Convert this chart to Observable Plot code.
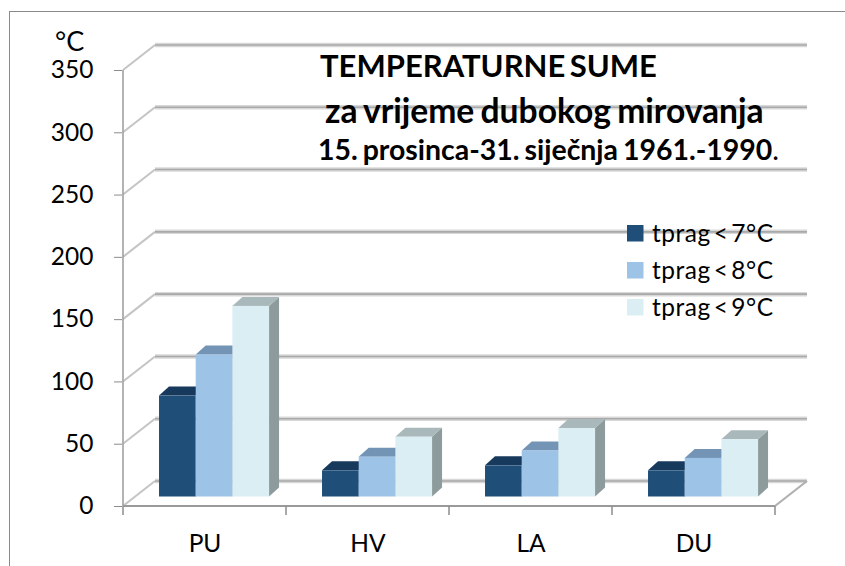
<!DOCTYPE html>
<html>
<head>
<meta charset="utf-8">
<script src="https://cdn.jsdelivr.net/npm/d3@7"></script>
<script src="https://cdn.jsdelivr.net/npm/@observablehq/plot@0.6"></script>
<style>
  html, body { margin: 0; padding: 0; background: #fff; }
  #wrap { position: relative; width: 845px; height: 566px; overflow: hidden; font-family: Lato, "Open Sans", sans-serif; }
  #border { position: absolute; left: 9px; top: 11px; width: 1000px; height: 1000px; border: 1.5px solid #8a8a8a; box-sizing: border-box; }
  #chart { position: absolute; left: 0; top: 0; }
</style>
</head>
<body>
<div id="wrap">
  <div id="border"></div>
  <div id="chart"></div>
</div>
<script>
// ---- data ----
const categories = ["PU", "HV", "LA", "DU"];
const seriesLabels = ["tprag < 7°C", "tprag < 8°C", "tprag < 9°C"];
const below7 = [81, 21, 25, 21];
const below8 = [114, 32, 37, 31];
const below9 = [153, 48, 55, 46];
const yTicks = [0, 50, 100, 150, 200, 250, 300, 350];
const yUnit = "°C";
const titleLines = ["TEMPERATURNE SUME", "za vrijeme dubokog mirovanja", "15. prosinca-31. siječnja 1961.-1990"];

// ---- styles ----
const frontColors = ["#1f4e79", "#9dc3e6", "#dbeef3"];
const topColors = ["#17395c", "#7394b4", "#a9b8ba"];
const sideColors = ["#163654", "#6e8dab", "#8d9b9c"];

const seriesValues = [below7, below8, below9];
const data = categories.flatMap((c, i) => seriesValues.map((s, j) => ({category: c, series: j, value: s[i]})));

// 3D scaffold + columns drawn through Plot's scales
function threeD(index, scales, values, dimensions) {
  const x = scales.x, y = scales.y;
  const bw = x.bandwidth ? x.bandwidth() : (dimensions.width - dimensions.marginLeft - dimensions.marginRight) / categories.length;
  const xL = x(categories[0]);
  const xR = x(categories[categories.length - 1]) + bw;
  const DX = 32, DY = -25;        // back-wall depth offset
  const BY = -9.5;                // columns sit slightly back
  const CDX = 10, CDY = -9;       // column depth
  const g = d3.create("svg:g");
  const y0 = y(0), yTop = y(yTicks[yTicks.length - 1]);

  for (const v of yTicks) {
    g.append("line").attr("x1", xL).attr("y1", y(v)).attr("x2", xL + DX).attr("y2", y(v) + DY)
      .attr("stroke", "#c4c4c4").attr("stroke-width", 2);
  }
  for (const v of yTicks) {
    g.append("line").attr("x1", xL + DX).attr("y1", y(v) + DY).attr("x2", xR + DX).attr("y2", y(v) + DY)
      .attr("stroke", "#d8d8d8").attr("stroke-width", 4.5);
    g.append("line").attr("x1", xL + DX).attr("y1", y(v) + DY).attr("x2", xR + DX).attr("y2", y(v) + DY)
      .attr("stroke", "#a9a9a9").attr("stroke-width", 1.6);
  }
  g.append("line").attr("x1", xL).attr("y1", y0).attr("x2", xR).attr("y2", y0).attr("stroke", "#9a9a9a").attr("stroke-width", 2);
  g.append("line").attr("x1", xR).attr("y1", y0).attr("x2", xR + DX).attr("y2", y0 + DY).attr("stroke", "#b0b0b0").attr("stroke-width", 2.2);
  g.append("line").attr("x1", xL).attr("y1", y0).attr("x2", xL).attr("y2", yTop).attr("stroke", "#a0a0a0").attr("stroke-width", 1.6);
  const bounds = categories.map(c => x(c)).concat([xR]);
  for (const bx of bounds) {
    g.append("line").attr("x1", bx).attr("y1", y0).attr("x2", bx).attr("y2", y0 + 9).attr("stroke", "#8c8c8c").attr("stroke-width", 1.5);
  }
  for (const d of data) {
    const w = bw * 0.225;
    const x0 = x(d.category) + bw * 0.221 + d.series * w;
    const yb = y0 + BY, yt = y(d.value) + BY;
    const j = d.series;
    g.append("path")
      .attr("d", `M${x0 + w},${yt}L${x0 + w + CDX},${yt + CDY}L${x0 + w + CDX},${yb + CDY}L${x0 + w},${yb}Z`)
      .attr("fill", sideColors[j]);
    g.append("path")
      .attr("d", `M${x0},${yt}L${x0 + CDX},${yt + CDY}L${x0 + w + CDX},${yt + CDY}L${x0 + w},${yt}Z`)
      .attr("fill", topColors[j]);
    g.append("rect").attr("x", x0).attr("y", yt).attr("width", w).attr("height", yb - yt).attr("fill", frontColors[j]);
  }
  return g.node();
}

const plot = Plot.plot({
  width: 845,
  height: 566,
  marginLeft: 122,
  marginRight: 70,
  marginTop: 70,
  marginBottom: 60,
  x: {type: "band", domain: categories, padding: 0},
  y: {domain: [0, 350]},
  style: {fontFamily: "Lato, 'Open Sans', sans-serif", fontSize: "24.5px", color: "#000", background: "transparent", overflow: "visible"},
  marks: [
    threeD,
    Plot.axisY(yTicks, {tickSize: 8, tickPadding: 21, stroke: "#8c8c8c", label: null}),
    Plot.axisX({tickSize: 0, tickPadding: 28, label: null})
  ]
});
document.getElementById("chart").appendChild(plot);

// overlay texts
const svg = d3.select(plot);
const ov = svg.append("g").attr("font-family", "Lato, 'Open Sans', sans-serif").attr("fill", "#000").attr("text-anchor", "start");

function fit(sel, target) {
  const len = sel.node().getComputedTextLength();
  const fs = parseFloat(sel.attr("font-size"));
  if (len > 0) sel.attr("font-size", (fs * target / len).toFixed(2));
}

ov.append("text").attr("x", 55).attr("y", 51).attr("font-size", 27).text(yUnit);

const t1 = ov.append("text").attr("x", 320).attr("y", 77).attr("font-size", 30).attr("font-weight", "bold").attr("word-spacing", -3).text(titleLines[0]);
fit(t1, 337);
const t2 = ov.append("text").attr("x", 325).attr("y", 123).attr("font-size", 30).attr("font-weight", "bold").attr("word-spacing", -2).text(titleLines[1]);
fit(t2, 438);
const t3 = ov.append("text").attr("x", 318).attr("y", 160).attr("font-size", 21).attr("word-spacing", -2);
t3.append("tspan").attr("font-weight", "bold").text(titleLines[2]);
t3.append("tspan").attr("font-weight", "normal").text(".");
fit(t3, 459);

// legend
const legY = [225, 262, 299];
seriesLabels.forEach((lab, j) => {
  ov.append("rect").attr("x", 627).attr("y", legY[j]).attr("width", 16.5).attr("height", 16.5).attr("fill", frontColors[j]);
  ov.append("text").attr("x", 652).attr("y", legY[j] + 16.5).attr("font-size", 24.5)
    .attr("textLength", 121).attr("lengthAdjust", "spacing").attr("word-spacing", -4).text(lab);
});
</script>
</body>
</html>
